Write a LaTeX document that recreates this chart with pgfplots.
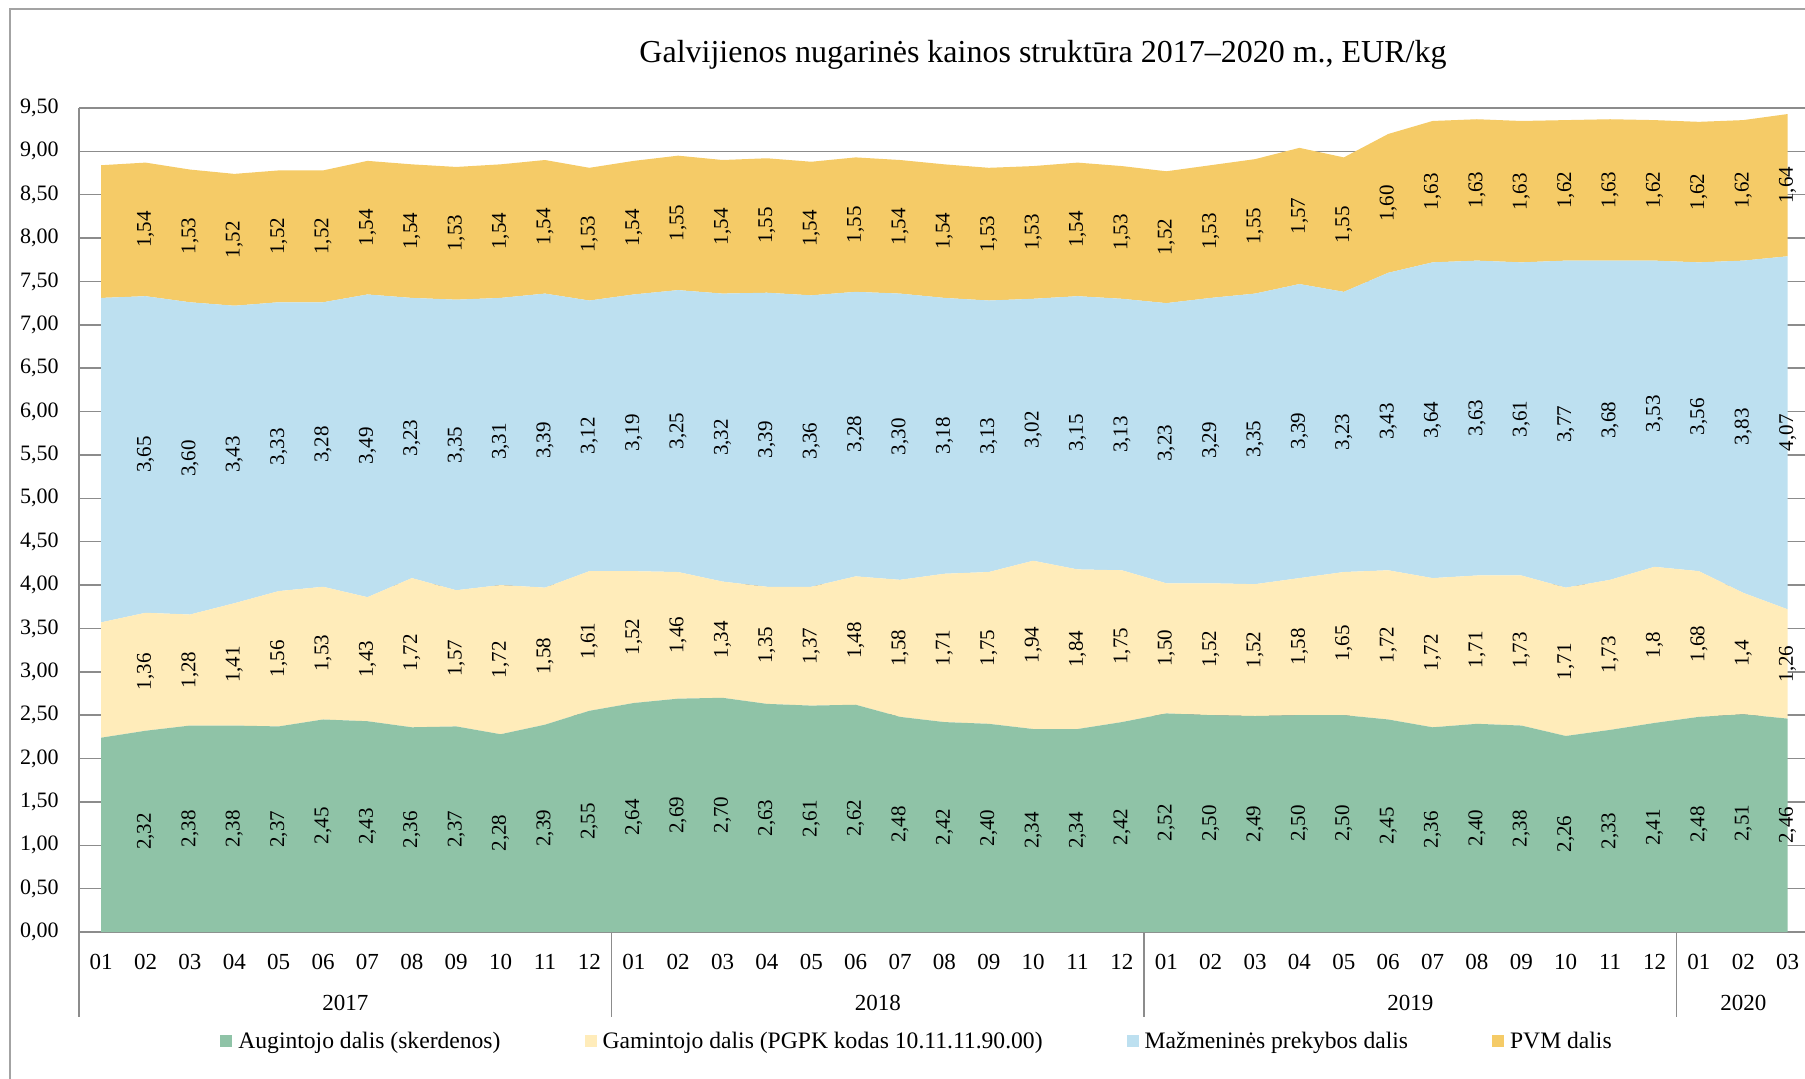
\documentclass[border=0pt]{standalone}
\usepackage{fontspec}
\setmainfont{Liberation Serif}
\usepackage{pgfplots}
\usepackage{pgfplotstable}
\pgfplotsset{compat=1.18}
\definecolor{cg}{RGB}{143,195,167}
\definecolor{cy}{RGB}{255,236,186}
\definecolor{cb}{RGB}{189,224,240}
\definecolor{cp}{RGB}{245,203,103}
\definecolor{lg}{RGB}{140,140,140}
\pgfplotstableread{
x gr grl ye yel bl bll pv pvl
0 2.24 {} 1.33 {} 3.74 {} 1.53 {}
1 2.32 2,32 1.36 1,36 3.65 3,65 1.54 1,54
2 2.38 2,38 1.28 1,28 3.60 3,60 1.53 1,53
3 2.38 2,38 1.41 1,41 3.43 3,43 1.52 1,52
4 2.37 2,37 1.56 1,56 3.33 3,33 1.52 1,52
5 2.45 2,45 1.53 1,53 3.28 3,28 1.52 1,52
6 2.43 2,43 1.43 1,43 3.49 3,49 1.54 1,54
7 2.36 2,36 1.72 1,72 3.23 3,23 1.54 1,54
8 2.37 2,37 1.57 1,57 3.35 3,35 1.53 1,53
9 2.28 2,28 1.72 1,72 3.31 3,31 1.54 1,54
10 2.39 2,39 1.58 1,58 3.39 3,39 1.54 1,54
11 2.55 2,55 1.61 1,61 3.12 3,12 1.53 1,53
12 2.64 2,64 1.52 1,52 3.19 3,19 1.54 1,54
13 2.69 2,69 1.46 1,46 3.25 3,25 1.55 1,55
14 2.70 2,70 1.34 1,34 3.32 3,32 1.54 1,54
15 2.63 2,63 1.35 1,35 3.39 3,39 1.55 1,55
16 2.61 2,61 1.37 1,37 3.36 3,36 1.54 1,54
17 2.62 2,62 1.48 1,48 3.28 3,28 1.55 1,55
18 2.48 2,48 1.58 1,58 3.30 3,30 1.54 1,54
19 2.42 2,42 1.71 1,71 3.18 3,18 1.54 1,54
20 2.40 2,40 1.75 1,75 3.13 3,13 1.53 1,53
21 2.34 2,34 1.94 1,94 3.02 3,02 1.53 1,53
22 2.34 2,34 1.84 1,84 3.15 3,15 1.54 1,54
23 2.42 2,42 1.75 1,75 3.13 3,13 1.53 1,53
24 2.52 2,52 1.50 1,50 3.23 3,23 1.52 1,52
25 2.50 2,50 1.52 1,52 3.29 3,29 1.53 1,53
26 2.49 2,49 1.52 1,52 3.35 3,35 1.55 1,55
27 2.50 2,50 1.58 1,58 3.39 3,39 1.57 1,57
28 2.50 2,50 1.65 1,65 3.23 3,23 1.55 1,55
29 2.45 2,45 1.72 1,72 3.43 3,43 1.60 1,60
30 2.36 2,36 1.72 1,72 3.64 3,64 1.63 1,63
31 2.40 2,40 1.71 1,71 3.63 3,63 1.63 1,63
32 2.38 2,38 1.73 1,73 3.61 3,61 1.63 1,63
33 2.26 2,26 1.71 1,71 3.77 3,77 1.62 1,62
34 2.33 2,33 1.73 1,73 3.68 3,68 1.63 1,63
35 2.41 2,41 1.8 1,8 3.53 3,53 1.62 1,62
36 2.48 2,48 1.68 1,68 3.56 3,56 1.62 1,62
37 2.51 2,51 1.4 1,4 3.83 3,83 1.62 1,62
38 2.46 2,46 1.26 1,26 4.07 4,07 1.64 1,64
}\data
\newcommand\lbfont{\fontsize{10.5}{12}\selectfont}
\pgfplotsset{
  lbl/.style={
    point meta=explicit symbolic,
    nodes near coords={\pgfplotspointmeta},
    visualization depends on={\thisrow{#1}\as\val},
    every node near coord/.style={yshift={-21.685*\val}, rotate=90, anchor=center, font=\lbfont, inner sep=0pt, text=black},
  }
}
\begin{document}
\begin{tikzpicture}
\useasboundingbox (0,0) rectangle (902.5pt,-539.5pt);
\draw[lg!80, line width=0.8pt] (5pt,-600pt) -- (5pt,-4.5pt) -- (950pt,-4.5pt);
\node[font=\fontsize{16}{19}\selectfont] at (521.5pt,-27.5pt) {Galvijienos nugarinės kainos struktūra 2017–2020 m., EUR/kg};
\begin{axis}[
  at={(39.5pt,-466pt)}, anchor=south west,
  x=22.19pt, y=43.37pt,
  xmin=-0.5, xmax=38.38, ymin=0, ymax=9.5,
  stack plots=y,
  clip=false,
  axis x line*=bottom, axis y line*=left,
  axis line style={-, draw=lg, line width=0.8pt},
  x axis line style={line width=1pt},
  ytick={0,0.5,...,9.5},
  ymajorgrids,
  major grid style={draw=lg, line width=0.75pt},
  tick style={draw=none},
  xtick={0,...,38},
  xticklabels={01,02,03,04,05,06,07,08,09,10,11,12,01,02,03,04,05,06,07,08,09,10,11,12,01,02,03,04,05,06,07,08,09,10,11,12,01,02,03},
  xticklabel style={anchor=center, yshift=-15pt, font=\fontsize{11.5}{13}\selectfont},
  yticklabel style={font=\fontsize{11}{13}\selectfont, inner sep=0pt, xshift=-10pt,
    /pgf/number format/fixed, /pgf/number format/fixed zerofill,
    /pgf/number format/precision=2, /pgf/number format/use comma,
    /pgf/number format/assume math mode=true},
  legend columns=4,
  legend style={at={(0.0817,-0.1335)}, anchor=west, draw=none, fill=none, inner sep=0pt,
    font=\fontsize{11.8}{14}\selectfont, nodes={inner sep=0pt},
    /tikz/every even column/.append style={column sep=42pt}},
  legend image code/.code={\fill[#1] (0pt,-2.5pt) rectangle (6pt,3.5pt); \path (9pt,0pt);},
]
\addplot[fill=cg, draw=none, forget plot, lbl=gr] table[x=x, y=gr, meta=grl] {\data} \closedcycle;
\addplot[fill=cy, draw=none, forget plot, lbl=ye] table[x=x, y=ye, meta=yel] {\data} \closedcycle;
\addplot[fill=cb, draw=none, forget plot, lbl=bl] table[x=x, y=bl, meta=bll] {\data} \closedcycle;
\addplot[fill=cp, draw=none, forget plot, lbl=pv] table[x=x, y=pv, meta=pvl] {\data} \closedcycle;
\addlegendimage{fill=cg, draw=none}\addlegendentry{Augintojo dalis (skerdenos)}
\addlegendimage{fill=cy, draw=none}\addlegendentry{Gamintojo dalis (PGPK kodas 10.11.11.90.00)}
\addlegendimage{fill=cb, draw=none}\addlegendentry{Mažmeninės prekybos dalis}
\addlegendimage{fill=cp, draw=none}\addlegendentry{PVM dalis}
\draw[lg, line width=0.8pt] (axis cs:-0.5,0) -- ++(0pt,-42.5pt);
\draw[lg, line width=0.8pt] (axis cs:11.5,0) -- ++(0pt,-42.5pt);
\draw[lg, line width=0.8pt] (axis cs:23.5,0) -- ++(0pt,-42.5pt);
\draw[lg, line width=0.8pt] (axis cs:35.5,0) -- ++(0pt,-42.5pt);
\node[font=\fontsize{11.5}{13}\selectfont] at ([yshift=-35.5pt]axis cs:5.5,0) {2017};
\node[font=\fontsize{11.5}{13}\selectfont] at ([yshift=-35.5pt]axis cs:17.5,0) {2018};
\node[font=\fontsize{11.5}{13}\selectfont] at ([yshift=-35.5pt]axis cs:29.5,0) {2019};
\node[font=\fontsize{11.5}{13}\selectfont] at ([yshift=-35.5pt]axis cs:37,0) {2020};
\end{axis}
\end{tikzpicture}
\end{document}
